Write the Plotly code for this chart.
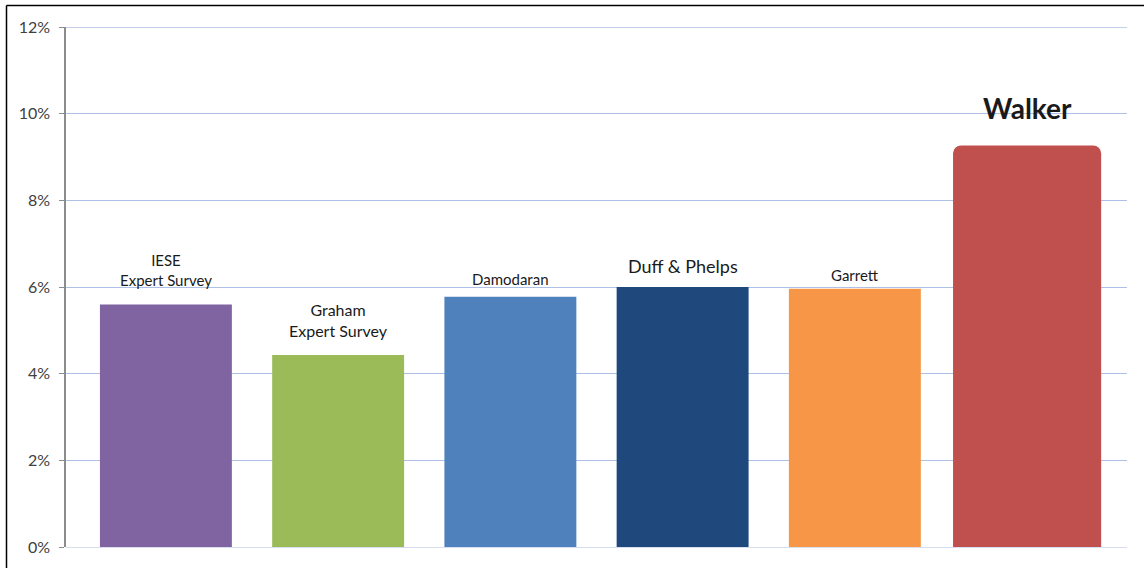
import plotly.graph_objects as go

categories = ["IESE<br>Expert Survey", "Graham<br>Expert Survey", "Damodaran",
              "Duff & Phelps", "Garrett", "Walker"]
values = [5.60, 4.43, 5.78, 6.00, 5.96, 9.27]
colors = ["#8064A2", "#9BBB59", "#4F81BD", "#1F497D", "#F79646", "#C0504D"]
label_sizes = [15, 16, 15, 18, 15, 28]
label_bold = [False, False, False, False, False, True]
label_shift = [34, 35, 18, 21, 14, 37]
tick_vals = [0, 2, 4, 6, 8, 10, 12]
tick_text = ["0%", "2%", "4%", "6%", "8%", "10%", "12%"]

W, H = 1144, 568
ML, MR, MT, MB = 66, 17, 27, 18
FONT = "Lato, 'Open Sans', sans-serif"
GRID = "#afc0e6"

idx = list(range(len(categories)))

fig = go.Figure()
fig.add_trace(go.Bar(
    x=idx[:5], y=values[:5], width=0.766,
    marker=dict(color=colors[:5], line=dict(width=0)),
    hoverinfo="skip", showlegend=False,
))
fig.add_trace(go.Bar(
    x=idx[5:], y=values[5:], width=0.86,
    marker=dict(color=colors[5:], line=dict(width=0), cornerradius=8),
    hoverinfo="skip", showlegend=False,
))

for i, (lab, v) in enumerate(zip(categories, values)):
    txt = f"<b>{lab}</b>" if label_bold[i] else lab
    fig.add_annotation(
        x=i, y=v, xref="x", yref="y", text=txt, showarrow=False,
        yanchor="middle", yshift=label_shift[i],
        font=dict(family=FONT, size=label_sizes[i], color="#1a1a1a"),
    )

# top gridline (at the range end)
fig.add_shape(type="line", xref="paper", yref="y", x0=0, x1=1,
              y0=tick_vals[-1], y1=tick_vals[-1], layer="below",
              line=dict(color=GRID, width=1.2))

pw = W - ML - MR
ph = H - MT - MB
left_x = (6.5 - ML) / pw
top_y = 1 + (MT - 5.5) / ph
fig.add_shape(type="line", xref="paper", yref="paper", x0=left_x, x1=left_x,
              y0=-1, y1=top_y, line=dict(color="#000000", width=1.5))
fig.add_shape(type="line", xref="paper", yref="paper", x0=left_x, x1=2,
              y0=top_y, y1=top_y, line=dict(color="#000000", width=1.5))

fig.update_layout(
    width=W, height=H,
    margin=dict(l=ML, r=MR, t=MT, b=MB),
    paper_bgcolor="white", plot_bgcolor="white",
    barmode="overlay",
    font=dict(family=FONT, size=15, color="#404040"),
    xaxis=dict(range=[-0.58, 5.58], showticklabels=False, showgrid=False,
               zeroline=False, showline=False, ticks=""),
    yaxis=dict(range=[0, 12.005], tickvals=tick_vals, ticktext=tick_text,
               showgrid=True, gridcolor=GRID, gridwidth=1.2,
               zeroline=True, zerolinecolor="#d6def0", zerolinewidth=1.2,
               showline=True, linecolor="#8c8c8c", linewidth=1.5,
               ticks="outside", ticklen=5, tickcolor="#8c8c8c",
               ticklabelstandoff=6,
               tickfont=dict(family=FONT, size=16, color="#404040")),
)

fig.write_html("out.html")
